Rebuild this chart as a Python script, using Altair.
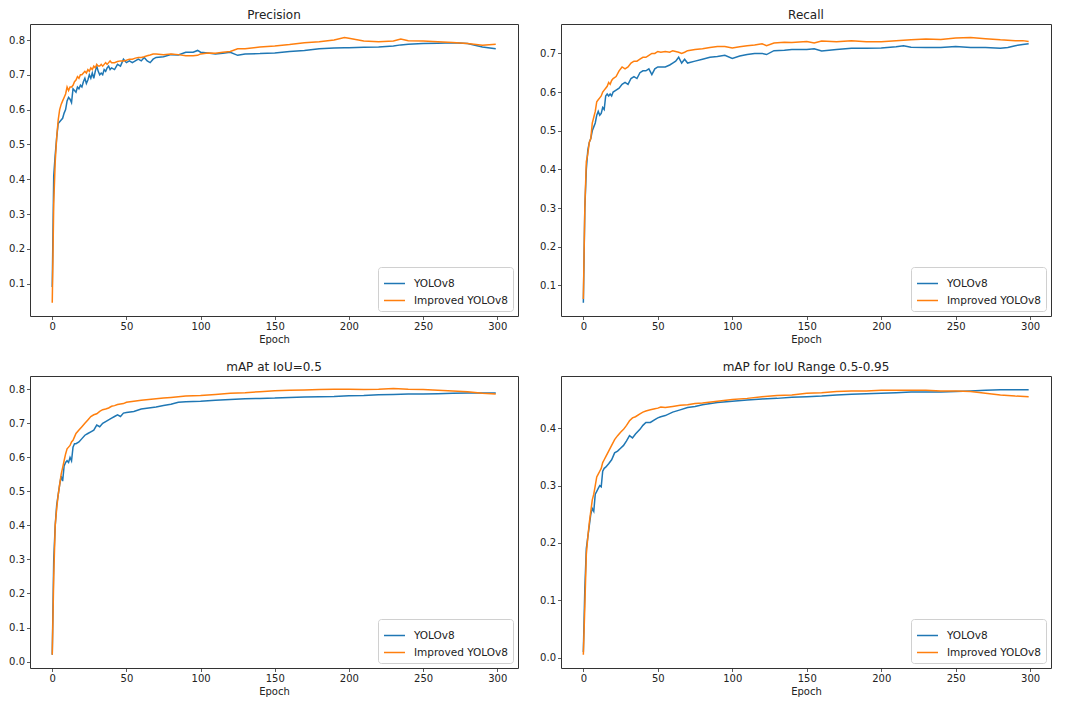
import altair as alt
import pandas as pd

MODELS = ["YOLOv8", "Improved YOLOv8"]
COLORS = ["#1f77b4", "#ff7f0e"]
X_TICKS = [0, 50, 100, 150, 200, 250, 300]

# ---------------- Precision ----------------
P_EPOCH = [0,1,2,3,4,5,6,7,8,9,10,11,12,13,14,15,16,17,18,19,20,21,22,23,24,25,26,27,28,29,
           30,31,32,33,34,35,36,37,38,39,40,42,44,46,48,50,52,54,56,58,60,62,64,66,68,70,75,80,
           85,90,95,98,100,105,110,115,120,125,130,140,150,160,170,180,190,197,200,210,220,230,
           235,240,250,260,270,280,290,299]
P_BASE = [0.09,0.41,0.47,0.52,0.56,0.565,0.57,0.575,0.59,0.60,0.625,0.635,0.63,0.62,0.66,0.655,
          0.65,0.665,0.66,0.67,0.665,0.68,0.69,0.675,0.685,0.70,0.69,0.705,0.69,0.71,0.725,0.71,
          0.70,0.705,0.70,0.715,0.71,0.72,0.725,0.715,0.72,0.715,0.73,0.725,0.745,0.735,0.74,
          0.735,0.74,0.745,0.74,0.75,0.74,0.735,0.745,0.75,0.752,0.758,0.757,0.765,0.765,0.77,
          0.765,0.763,0.76,0.762,0.765,0.756,0.76,0.761,0.763,0.767,0.77,0.775,0.777,0.778,0.778,
          0.779,0.78,0.783,0.786,0.788,0.79,0.791,0.792,0.79,0.78,0.775]
P_IMP = [0.045,0.33,0.45,0.52,0.57,0.60,0.615,0.625,0.635,0.645,0.665,0.655,0.665,0.665,0.67,
         0.68,0.685,0.695,0.69,0.70,0.70,0.705,0.71,0.705,0.715,0.71,0.72,0.715,0.725,0.72,0.73,
         0.725,0.725,0.73,0.725,0.73,0.735,0.73,0.735,0.74,0.735,0.735,0.738,0.74,0.74,0.742,
         0.745,0.745,0.748,0.75,0.75,0.752,0.755,0.757,0.76,0.76,0.758,0.76,0.758,0.755,0.755,
         0.756,0.76,0.763,0.762,0.765,0.767,0.775,0.775,0.78,0.783,0.787,0.792,0.795,0.80,0.807,
         0.805,0.797,0.795,0.797,0.803,0.798,0.797,0.795,0.793,0.79,0.785,0.788]

# ---------------- Recall ----------------
R_EPOCH = [0,1,2,3,4,5,6,7,8,9,10,11,12,13,14,15,16,17,18,19,20,22,24,26,28,30,32,34,36,38,40,
           42,44,46,48,50,52,55,58,60,62,64,66,68,70,75,80,85,90,95,100,105,110,115,120,123,128,
           135,140,150,155,160,170,180,190,200,210,215,220,230,240,250,260,270,280,285,290,295,299]
R_BASE = [0.055,0.30,0.40,0.45,0.47,0.48,0.50,0.51,0.52,0.54,0.55,0.54,0.545,0.56,0.555,0.59,
          0.595,0.59,0.595,0.59,0.60,0.605,0.61,0.62,0.625,0.62,0.635,0.64,0.635,0.65,0.655,0.655,
          0.66,0.645,0.66,0.665,0.665,0.665,0.67,0.675,0.68,0.69,0.675,0.685,0.675,0.68,0.685,
          0.69,0.692,0.695,0.687,0.693,0.697,0.70,0.70,0.697,0.707,0.708,0.71,0.71,0.712,0.706,
          0.71,0.713,0.713,0.714,0.717,0.72,0.716,0.715,0.715,0.718,0.715,0.715,0.713,0.715,0.72,
          0.723,0.725]
R_IMP = [0.065,0.30,0.42,0.44,0.47,0.48,0.52,0.535,0.55,0.575,0.58,0.585,0.59,0.60,0.605,0.61,
         0.615,0.625,0.62,0.63,0.635,0.64,0.655,0.665,0.66,0.665,0.675,0.68,0.68,0.685,0.69,0.69,
         0.695,0.70,0.70,0.705,0.703,0.705,0.703,0.707,0.705,0.703,0.70,0.703,0.707,0.71,0.712,
         0.715,0.718,0.718,0.714,0.717,0.72,0.722,0.725,0.72,0.727,0.729,0.728,0.731,0.727,0.732,
         0.73,0.733,0.73,0.73,0.733,0.734,0.735,0.737,0.736,0.74,0.741,0.738,0.735,0.734,0.733,
         0.733,0.731]

# ---------------- mAP at IoU=0.5 ----------------
M_EPOCH = [0,1,2,3,4,5,6,7,8,9,10,11,12,13,14,15,16,18,20,22,24,26,28,30,32,34,36,38,40,42,44,
           46,48,50,55,60,65,70,75,80,85,90,100,110,120,130,140,150,160,170,180,190,200,210,220,
           230,240,250,260,270,280,290,299]
M_BASE = [0.02,0.30,0.40,0.46,0.49,0.52,0.545,0.53,0.575,0.585,0.59,0.585,0.60,0.59,0.63,0.64,
          0.64,0.645,0.655,0.665,0.67,0.675,0.68,0.695,0.69,0.70,0.705,0.71,0.715,0.72,0.725,0.72,
          0.73,0.732,0.735,0.742,0.745,0.748,0.752,0.756,0.762,0.763,0.765,0.768,0.77,0.772,0.773,
          0.774,0.776,0.777,0.778,0.779,0.781,0.782,0.784,0.785,0.786,0.786,0.787,0.788,0.789,
          0.789,0.789]
M_IMP = [0.02,0.25,0.40,0.45,0.49,0.52,0.55,0.57,0.59,0.61,0.625,0.63,0.635,0.645,0.65,0.66,
         0.67,0.68,0.69,0.70,0.71,0.72,0.725,0.728,0.735,0.74,0.742,0.745,0.75,0.752,0.755,0.757,
         0.758,0.762,0.765,0.768,0.77,0.772,0.774,0.776,0.778,0.78,0.782,0.785,0.788,0.79,0.793,
         0.796,0.797,0.798,0.799,0.80,0.80,0.799,0.80,0.802,0.80,0.799,0.797,0.795,0.793,0.788,
         0.786]

# ---------------- mAP for IoU Range 0.5-0.95 ----------------
A_EPOCH = [0,1,2,3,4,5,6,7,8,9,10,11,12,13,14,15,17,19,21,23,25,27,29,31,33,35,38,40,42,45,48,
           50,52,55,60,65,70,75,80,90,100,110,120,130,140,150,160,170,180,190,200,210,220,230,
           240,250,260,270,280,290,299]
A_BASE = [0.01,0.12,0.19,0.21,0.23,0.25,0.26,0.255,0.285,0.29,0.295,0.30,0.298,0.325,0.33,0.332,
          0.338,0.345,0.357,0.36,0.365,0.37,0.378,0.387,0.383,0.39,0.398,0.405,0.41,0.41,0.415,
          0.418,0.42,0.422,0.428,0.432,0.436,0.438,0.441,0.445,0.447,0.449,0.451,0.452,0.454,
          0.455,0.456,0.458,0.459,0.46,0.461,0.462,0.463,0.463,0.463,0.464,0.465,0.466,0.467,
          0.467,0.467]
A_IMP = [0.005,0.09,0.18,0.21,0.235,0.255,0.275,0.285,0.30,0.315,0.32,0.325,0.33,0.34,0.345,0.35,
         0.36,0.37,0.38,0.387,0.393,0.398,0.405,0.413,0.418,0.42,0.425,0.428,0.43,0.432,0.434,
         0.435,0.437,0.436,0.438,0.44,0.441,0.443,0.444,0.447,0.45,0.452,0.455,0.457,0.458,0.461,
         0.462,0.464,0.465,0.465,0.466,0.466,0.466,0.466,0.465,0.465,0.464,0.461,0.458,0.456,
         0.455]

FONT = "DejaVu Sans"


def panel(title, epochs, base, imp, ydomain, yticks, width, height):
    rows = []
    for e, v in zip(epochs, base):
        rows.append({"epoch": e, "value": v, "model": MODELS[0]})
    for e, v in zip(epochs, imp):
        rows.append({"epoch": e, "value": v, "model": MODELS[1]})
    df = pd.DataFrame(rows)
    return (
        alt.Chart(df)
        .mark_line(strokeWidth=1.5, clip=True)
        .encode(
            x=alt.X(
                "epoch:Q",
                scale=alt.Scale(domain=[-15, 314], nice=False, zero=False),
                axis=alt.Axis(values=X_TICKS, title="Epoch", grid=False, format="d"),
            ),
            y=alt.Y(
                "value:Q",
                scale=alt.Scale(domain=ydomain, nice=False, zero=False),
                axis=alt.Axis(values=yticks, title=None, grid=False, format=".1f"),
            ),
            color=alt.Color(
                "model:N",
                scale=alt.Scale(domain=MODELS, range=COLORS),
                legend=alt.Legend(title=None, orient="bottom-right"),
            ),
            order=alt.Order("epoch:Q"),
        )
        .properties(title=title, width=width, height=height)
    )


H = 292
WL = 488
WR = 490

p1 = panel("Precision", P_EPOCH, P_BASE, P_IMP, [0.007, 0.846],
           [0.1, 0.2, 0.3, 0.4, 0.5, 0.6, 0.7, 0.8], WL, H)
p2 = panel("Recall", R_EPOCH, R_BASE, R_IMP, [0.021, 0.776],
           [0.1, 0.2, 0.3, 0.4, 0.5, 0.6, 0.7], WR, H)
p3 = panel("mAP at IoU=0.5", M_EPOCH, M_BASE, M_IMP, [-0.019, 0.839],
           [0.0, 0.1, 0.2, 0.3, 0.4, 0.5, 0.6, 0.7, 0.8], WL, H)
p4 = panel("mAP for IoU Range 0.5-0.95", A_EPOCH, A_BASE, A_IMP, [-0.018, 0.491],
           [0.0, 0.1, 0.2, 0.3, 0.4], WR, H)

top = alt.hconcat(p1, p2, spacing=20).resolve_scale(color="independent")
bottom = alt.hconcat(p3, p4, spacing=20).resolve_scale(color="independent")

chart = (
    alt.vconcat(top, bottom, spacing=15)
    .resolve_scale(color="independent")
    .properties(padding={"left": 0, "top": 0, "right": 5, "bottom": 5})
    .configure(font=FONT)
    .configure_view(stroke="#333333", strokeWidth=1)
    .configure_axis(
        domain=False,
        tickColor="#333333",
        tickSize=3.5,
        tickWidth=0.8,
        labelFontSize=10,
        labelColor="#222222",
        labelPadding=2,
        titleFontSize=10,
        titleFontWeight="normal",
        titleColor="#222222",
        titlePadding=3,
        labelFont=FONT,
        titleFont=FONT,
    )
    .configure_title(fontSize=12, fontWeight="normal", color="#222222", offset=2, font=FONT)
    .configure_legend(
        fillColor="white",
        strokeColor="#d0d0d0",
        cornerRadius=3,
        padding=5,
        offset=5,
        symbolType="stroke",
        symbolSize=440,
        symbolStrokeWidth=1.5,
        labelFontSize=10.5,
        labelColor="#222222",
        labelFont=FONT,
        rowPadding=-7,
        labelOffset=8,
    )
)

chart.save("out.html", embed_options={"renderer": "svg", "actions": False})
